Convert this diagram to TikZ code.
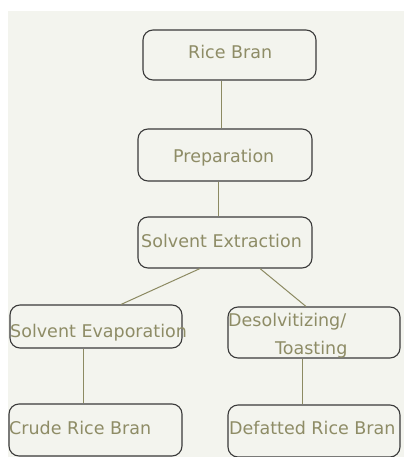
\documentclass[tikz,border=0pt]{standalone}
\usepackage{fontspec}
\setmainfont{DejaVu Sans}
\definecolor{bg}{HTML}{F3F4EE}
\definecolor{boxline}{HTML}{3A3A3A}
\definecolor{conn}{HTML}{8C8A62}
\definecolor{txt}{HTML}{8E8C66}
\begin{document}
\begin{tikzpicture}[x=1pt,y=-1pt,
  box/.style={draw=boxline, line width=1.1pt, rounded corners=10pt, inner sep=0pt, fill=bg},
  conline/.style={draw=conn, line width=1pt},
  lbl/.style={text=txt, font=\fontsize{17.5}{20}\selectfont, inner sep=0pt, anchor=base west}]
\useasboundingbox (0,0) rectangle (404,457);
\fill[white] (0,0) rectangle (404,457);
\fill[bg] (8,11) rectangle (404,457);
\node[box, minimum width=173pt, minimum height=50pt] (rb) at (229.5,55) {};
\node[box, minimum width=174pt, minimum height=52pt] (prep) at (225,155) {};
\node[box, minimum width=174pt, minimum height=51pt] (se) at (225,242.5) {};
\node[box, minimum width=172pt, minimum height=43pt] (ev) at (96,326.5) {};
\node[box, minimum width=172pt, minimum height=51pt] (ds) at (314,332.5) {};
\node[box, minimum width=173pt, minimum height=52pt] (cr) at (95.5,430) {};
\node[box, minimum width=172pt, minimum height=52pt] (df) at (314,431) {};
\draw[conline] ([xshift=-8.5pt]rb.south) -- ([xshift=-4pt]prep.north);
\draw[conline] ([xshift=-7pt]prep.south) -- ([xshift=-7pt]se.north);
\draw[conline] ([xshift=-25pt]se.south) -- ([xshift=25pt]ev.north);
\draw[conline] ([xshift=35pt]se.south) -- ([xshift=-8pt]ds.north);
\draw[conline] ([xshift=-13pt]ev.south) -- ([xshift=-12.5pt]cr.north);
\draw[conline] ([xshift=-12pt]ds.south) -- ([xshift=-12pt]df.north);
\node[lbl] (t1) at (188,59) {Rice Bran};
\node[lbl] (t2) at (173,162) {Preparation};
\node[lbl] (t3) at (141,247) {Solvent Extraction};
\node[lbl] (t4) at (10,337) {Solvent Evaporation};
\node[lbl] (t5) at (228,326) {Desolvitizing/};
\node[lbl] (t6) at (275,354) {Toasting};
\node[lbl] (t7) at (9,434) {Crude Rice Bran};
\node[lbl] (t8) at (229,434) {Defatted Rice Bran};
\end{tikzpicture}
\end{document}
